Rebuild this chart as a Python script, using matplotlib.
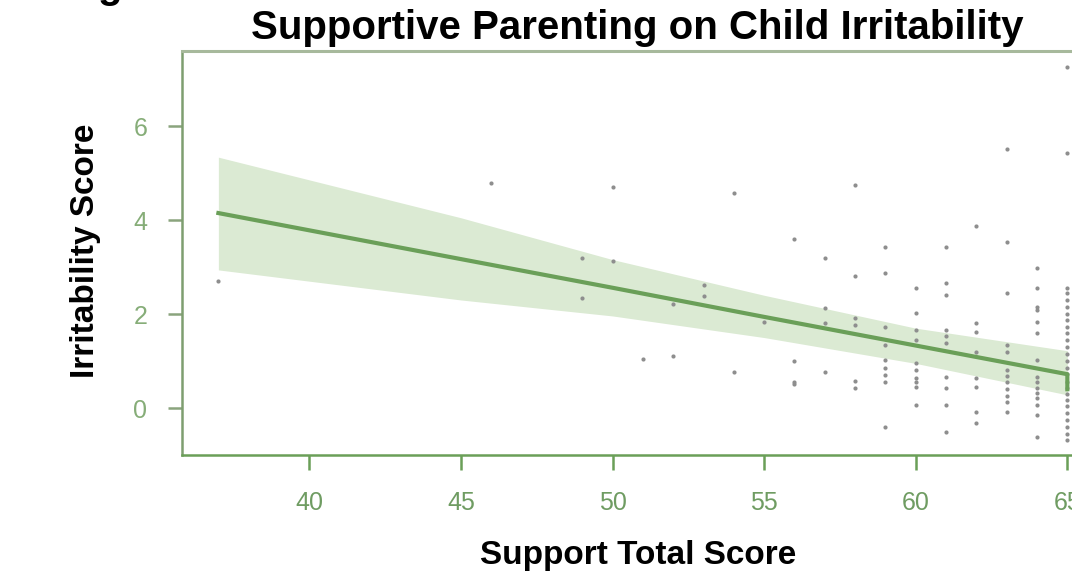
import numpy as np
import matplotlib
matplotlib.use("Agg")
import matplotlib.pyplot as plt

# scatter data (support total score, irritability score)
xs = ([37] + [46] + [49]*2 + [50]*2 + [51] + [52]*2 + [53]*2 + [54]*2 + [55]
      + [56]*4 + [57]*4 + [58]*6 + [59]*9 + [60]*10 + [61]*10 + [62]*8
      + [63]*12 + [64]*15 + [65]*26)
ys = ([2.70]
      + [4.79]
      + [3.19, 2.34]
      + [4.70, 3.13]
      + [1.04]
      + [2.21, 1.11]
      + [2.62, 2.38]
      + [4.57, 0.77]
      + [1.83]
      + [3.60, 1.00, 0.55, 0.51]
      + [3.19, 2.13, 1.81, 0.77]
      + [4.74, 2.81, 1.91, 1.77, 0.57, 0.43]
      + [3.43, 2.87, 1.72, 1.34, 1.02, 0.85, 0.70, 0.55, -0.40]
      + [2.55, 2.02, 1.66, 1.45, 0.96, 0.81, 0.64, 0.55, 0.45, 0.06]
      + [3.43, 2.66, 2.40, 1.66, 1.53, 1.38, 0.66, 0.43, 0.06, -0.51]
      + [3.87, 1.81, 1.62, 1.20, 0.64, 0.45, -0.09, -0.32]
      + [5.51, 3.53, 2.45, 1.34, 1.19, 0.81, 0.68, 0.55, 0.40, 0.26, 0.13, -0.09]
      + [2.98, 2.55, 2.15, 2.08, 1.83, 1.60, 1.02, 0.66, 0.55, 0.43, 0.32, 0.21,
         0.06, -0.15, -0.62]
      + [7.26, 5.42, 2.55, 2.45, 2.30, 2.15, 2.00, 1.87, 1.72, 1.60, 1.45, 1.30,
         1.15, 1.00, 0.85, 0.72, 0.55, 0.42, 0.30, 0.18, 0.05, -0.10, -0.25,
         -0.40, -0.55, -0.68])

# fitted line and confidence band
fit_x = [37, 45, 50, 55, 60, 65, 65]
fit_y = [4.15, 3.17, 2.56, 1.94, 1.33, 0.72, 0.40]
band_x = [37, 45, 50, 55, 60, 65]
band_lo = [2.94, 2.30, 1.96, 1.50, 0.95, 0.28]
band_hi = [5.34, 4.05, 3.16, 2.40, 1.70, 1.22]

xticks = [40, 45, 50, 55, 60, 65]
yticks = [0, 2, 4, 6]

green = "#6a9f58"
lab_font = "Liberation Sans"

fig = plt.figure(figsize=(10.72, 5.73), dpi=100)
ax = fig.add_axes([182/1072, 118/573, 946/1072, 404/573])

ax.fill_between(band_x, band_lo, band_hi, color="#dbead3", lw=0, zorder=1)
ax.plot(fit_x, fit_y, color=green, lw=3, zorder=3)
ax.scatter(xs, ys, s=9, color="#8e8e8e", lw=0, zorder=2)

ax.set_xlim(35.8, 67.0)
ax.set_ylim(-1.0, 7.6)
ax.set_xticks(xticks)
ax.set_yticks(yticks)
ax.tick_params(axis="x", length=11, width=1.8, color=green, pad=15,
               labelsize=18, labelcolor="#6f9c62")
ax.tick_params(axis="y", length=10, width=1.8, color="#8aa47d", pad=15,
               labelsize=18, labelcolor="#86ad78")
for lab in ax.get_xticklabels() + ax.get_yticklabels():
    lab.set_family(lab_font)

ax.spines["left"].set_color("#7e9e70")
ax.spines["left"].set_linewidth(1.8)
ax.spines["bottom"].set_color(green)
ax.spines["bottom"].set_linewidth(1.8)
ax.spines["top"].set_color("#a7b99c")
ax.spines["top"].set_linewidth(2.2)
ax.spines["right"].set_visible(False)

fig.text(0.594, 0.951, "Supportive Parenting on Child Irritability",
         ha="center", va="center", fontsize=29, fontweight="bold",
         family=lab_font, color="black")
fig.text(0.595, 0.031, "Support Total Score", ha="center", va="center",
         fontsize=24, fontweight="bold", family=lab_font, color="black")
fig.text(0.080, 0.562, "Irritability Score", ha="center", va="center",
         rotation=90, fontsize=24, fontweight="bold", family=lab_font,
         color="black")
# descender of a clipped line above the title
fig.text(0.091, 1.004, "g", ha="left", va="baseline", fontsize=29,
         fontweight="bold", family=lab_font, color="black")

fig.savefig("out.png", dpi=100)
